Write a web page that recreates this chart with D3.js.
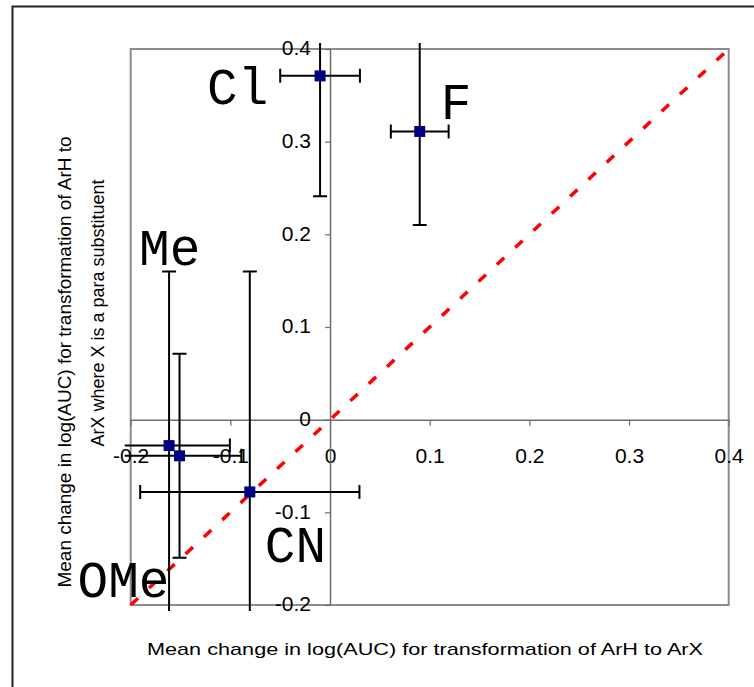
<!DOCTYPE html>
<html>
<head>
<meta charset="utf-8">
<script src="https://d3js.org/d3.v7.min.js"></script>
<style>
	body { margin: 0; background: white; }
</style>
</head>
<body>
<script>

// substituent data
var names = ["Cl", "F", "Me", "OMe", "CN"];
var xMean = [-0.010, 0.090, -0.1615, -0.151, -0.0805];
var yMean = [0.371, 0.311, -0.028, -0.039, -0.078];
var xErr = [0.040, 0.029, 0.061, 0.062, 0.110];
var yErr = [0.130, 0.101, 0.188, 0.110, 0.238];

// axes
var tickVals = [-0.2, -0.1, 0, 0.1, 0.2, 0.3, 0.4];
var tickText = ["-0.2", "-0.1", "0", "0.1", "0.2", "0.3", "0.4"];
var xTitle = "Mean change in log(AUC) for transformation of ArH to ArX";
var yTitle = ["Mean change in log(AUC) for transformation of ArH to", "ArX where X is a para substituent"];

var width = 754, height = 687;
//plot area edges (note: "top" is reserved on window)
var pLeft = 130.7, pRight = 728.7, pTop = 49, pBottom = 605;

var svg = d3.select("body").append("svg").attr("width", width).attr("height", height);

//Outer chart frame
svg.append("rect").attr("x", 12.5).attr("y", 6.5).attr("width", 900).attr("height", 900)
	.attr("fill", "none").attr("stroke", "#222").attr("stroke-width", 2);

var x = d3.scaleLinear().domain([-0.2, 0.4]).range([pLeft, pRight]);
var y = d3.scaleLinear().domain([-0.2, 0.4]).range([pBottom, pTop]);

//Plot area border
svg.append("rect").attr("x", pLeft).attr("y", pTop).attr("width", pRight - pLeft).attr("height", pBottom - pTop)
	.attr("fill", "none").attr("stroke", "#8c8c8c").attr("stroke-width", 2);

//Axes cross at zero
var fmt = function(d, i) { return tickText[i]; };

var xAxis = svg.append("g").attr("transform", "translate(0," + y(0) + ")")
	.call(d3.axisBottom(x).tickValues(tickVals).tickFormat(fmt).tickSize(6).tickSizeOuter(0).tickPadding(22));
var yAxis = svg.append("g").attr("transform", "translate(" + x(0) + ",0)")
	.call(d3.axisLeft(y).tickValues(tickVals).tickFormat(fmt).tickSize(5).tickSizeOuter(0).tickPadding(14));

[xAxis, yAxis].forEach(function(a) {
	a.select(".domain").attr("stroke", "#6e6e6e").attr("stroke-width", 1.5);
	a.selectAll(".tick line").attr("stroke", "#6e6e6e").attr("stroke-width", 1.2);
	a.selectAll(".tick text").attr("fill", "black").attr("font-family", "Liberation Sans, Arial")
		.attr("font-size", 21);
});
yAxis.selectAll(".tick text").attr("dy", "0.28em");

//Diagonal y = x
svg.append("line")
	.attr("x1", x(-0.2)).attr("y1", y(-0.2)).attr("x2", x(0.4)).attr("y2", y(0.4))
	.attr("stroke", "#ff0000").attr("stroke-width", 3.5).attr("stroke-dasharray", "10,15");

//Error bars, clipped a little outside the plot area
svg.append("clipPath").attr("id", "clip").append("rect")
	.attr("x", pLeft - 6).attr("y", pTop - 6).attr("width", pRight - pLeft + 12).attr("height", pBottom - pTop + 12);

var bars = svg.append("g").attr("clip-path", "url(#clip)")
	.attr("stroke", "black").attr("stroke-width", 2);
var cap = 7;

names.forEach(function(n, i) {
	var cx = x(xMean[i]), cy = y(yMean[i]);
	var x0 = x(xMean[i] - xErr[i]), x1 = x(xMean[i] + xErr[i]);
	var y0 = y(yMean[i] - yErr[i]), y1 = y(yMean[i] + yErr[i]);
	bars.append("line").attr("x1", x0).attr("x2", x1).attr("y1", cy).attr("y2", cy);
	bars.append("line").attr("x1", x0).attr("x2", x0).attr("y1", cy - cap).attr("y2", cy + cap);
	bars.append("line").attr("x1", x1).attr("x2", x1).attr("y1", cy - cap).attr("y2", cy + cap);
	bars.append("line").attr("x1", cx).attr("x2", cx).attr("y1", y0).attr("y2", y1);
	bars.append("line").attr("x1", cx - cap).attr("x2", cx + cap).attr("y1", y0).attr("y2", y0);
	bars.append("line").attr("x1", cx - cap).attr("x2", cx + cap).attr("y1", y1).attr("y2", y1);
});

//Markers
svg.selectAll(".pt").data(names).enter().append("rect")
	.attr("x", function(d, i) { return x(xMean[i]) - 5.5; })
	.attr("y", function(d, i) { return y(yMean[i]) - 5.5; })
	.attr("width", 11).attr("height", 11)
	.attr("fill", "#000080");

//Substituent labels (offset from each point, in px)
var labelOff = [[-113, 28], [21, -12], [-30, -181], [-102, 141], [15, 70]];
svg.selectAll(".lab").data(names).enter().append("text")
	.attr("x", function(d, i) { return x(xMean[i]) + labelOff[i][0]; })
	.attr("y", function(d, i) { return y(yMean[i]) + labelOff[i][1]; })
	.attr("font-family", "Liberation Mono, Courier New").attr("font-size", 51)
	.attr("fill", "black").text(function(d) { return d; });

//Axis titles
svg.append("text").attr("x", 425).attr("y", 655).attr("text-anchor", "middle")
	.attr("font-family", "Liberation Sans, Arial").attr("font-size", 17)
	.attr("textLength", 556).attr("lengthAdjust", "spacingAndGlyphs").text(xTitle);

var yLen = [451, 267], yMid = [362, 313];
yTitle.forEach(function(t, i) {
	svg.append("text").attr("transform", "translate(" + (71 + i * 33) + "," + yMid[i] + ") rotate(-90)")
		.attr("text-anchor", "middle").attr("font-family", "Liberation Sans, Arial").attr("font-size", 17.5)
		.attr("textLength", yLen[i]).attr("lengthAdjust", "spacingAndGlyphs")
		.text(t);
});

</script>
</body>
</html>
